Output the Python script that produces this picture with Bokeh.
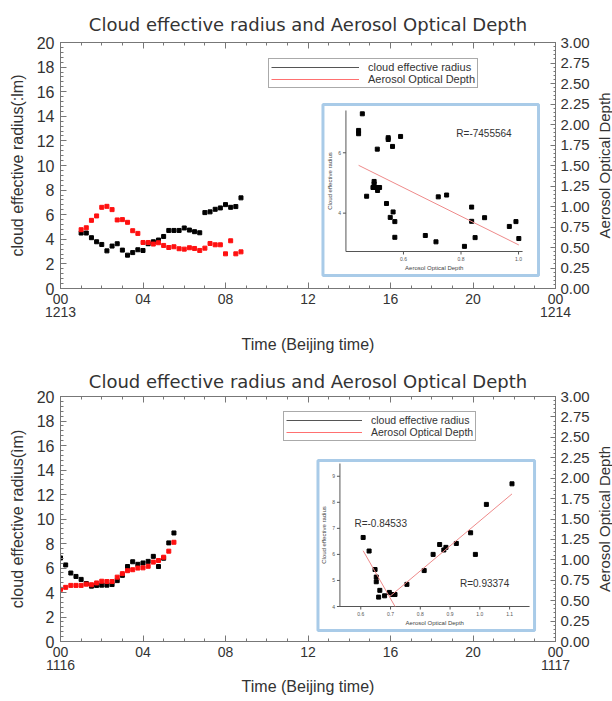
import numpy as np
from bokeh.plotting import figure
from bokeh.models import (Range1d, LinearAxis, FixedTicker, SingleIntervalTicker,
                          Legend, LegendItem)
from bokeh.core.properties import value
from bokeh.layouts import column, row
from bokeh.embed import file_html
from bokeh.resources import INLINE

# ---------------- data: panel 1 (13 Dec) ----------------
time1 = [1.0, 1.25, 1.5, 1.75, 2.0, 2.25, 2.5, 2.75, 3.0, 3.25, 3.5, 3.75, 4.0, 4.25, 4.5, 4.75,
         5.0, 5.25, 5.5, 5.75, 6.0, 6.25, 6.5, 6.75, 7.0, 7.25, 7.5, 7.75, 8.0, 8.25, 8.5, 8.75]
cer1 = [4.51, 4.51, 4.13, 3.80, 3.58, 3.06, 3.45, 3.64, 3.12, 2.71, 2.92, 3.15, 3.09, 3.64, 3.80, 3.94,
        4.23, 4.72, 4.72, 4.72, 4.92, 4.75, 4.62, 4.53, 6.17, 6.23, 6.44, 6.55, 6.82, 6.60, 6.66, 7.37]
aod1 = [0.717, 0.741, 0.831, 0.885, 0.990, 1.002, 0.962, 0.836, 0.840, 0.807, 0.705, 0.672, 0.561, 0.561,
        0.542, 0.558, 0.525, 0.500, 0.509, 0.485, 0.480, 0.497, 0.488, 0.464, 0.492, 0.549, 0.533, 0.533,
        0.423, 0.582, 0.423, 0.447]

# inset 1 (scatter CER vs AOD)
inset1_aod = [0.721, 0.750, 0.837, 0.882, 0.991, 1.001, 0.968, 0.837, 0.849, 0.812, 0.713, 0.676, 0.570,
              0.570, 0.554, 0.564, 0.541, 0.498, 0.505, 0.494, 0.498, 0.517, 0.510, 0.472, 0.509, 0.547,
              0.547, 0.562, 0.444, 0.590, 0.444, 0.457]
inset1_cer = [4.54, 4.60, 4.20, 3.85, 3.72, 3.16, 3.56, 3.73, 3.19, 2.90, 3.05, 3.26, 3.20, 3.72, 3.86, 4.04,
              4.32, 4.97, 4.85, 4.85, 5.05, 4.85, 4.75, 4.56, 6.12, 6.44, 6.50, 6.21, 6.74, 6.54, 6.63, 7.29]
inset1_xticks = [0.6, 0.8, 1.0]
inset1_yticks = [4, 6]
inset1_r = ["R=-7455564"]

# ---------------- data: panel 2 (16 Nov) ----------------
time2 = [0.0, 0.25, 0.5, 0.75, 1.0, 1.25, 1.5, 1.75, 2.0, 2.25, 2.5, 2.75, 3.0, 3.25, 3.5, 3.75,
         4.0, 4.25, 4.5, 4.75, 5.0, 5.25, 5.5]
cer2 = [6.82, 6.25, 5.59, 5.31, 5.07, 4.73, 4.52, 4.58, 4.60, 4.60, 4.65, 4.97, 5.40, 6.12, 6.51, 6.30,
        6.41, 6.54, 6.95, 6.12, 6.80, 8.05, 8.86]
aod2 = [0.639, 0.663, 0.687, 0.687, 0.687, 0.702, 0.695, 0.717, 0.738, 0.734, 0.734, 0.788, 0.831, 0.867,
        0.879, 0.899, 0.902, 0.921, 0.972, 0.992, 1.032, 1.106, 1.215]

inset2_aod = [0.608, 0.628, 0.648, 0.652, 0.652, 0.664, 0.660, 0.680, 0.696, 0.706, 0.715, 0.755, 0.813,
              0.843, 0.865, 0.879, 0.886, 0.921, 0.969, 0.985, 1.022, 1.108]
inset2_cer = [6.65, 6.13, 5.42, 5.13, 4.95, 4.62, 4.36, 4.41, 4.54, 4.46, 4.46, 4.85, 5.38, 6.00, 6.38,
              6.17, 6.27, 6.42, 6.83, 6.00, 7.92, 8.71]
inset2_fall = (0, 11)     # points used for the decreasing fit
inset2_rise = (8, 22)     # points used for the increasing fit
inset2_xticks = [0.6, 0.7, 0.8, 0.9, 1.0, 1.1]
inset2_yticks = [4, 5, 6, 7, 8, 9]
inset2_r = ["R=-0.84533", "R=0.93374"]

# ---------------- ticks / labels ----------------
hour_ticks = [0, 4, 8, 12, 16, 20, 24]
hour_labels = ["00", "04", "08", "12", "16", "20", "00"]
day_ticks = [0, 24]
day_labels1 = ["1213", "1214"]
day_labels2 = ["1116", "1117"]
aod_ticks = [0.0, 0.25, 0.5, 0.75, 1.0, 1.25, 1.5, 1.75, 2.0, 2.25, 2.5, 2.75, 3.0]
title_text = "Cloud effective radius and Aerosol Optical Depth"
series_names = ["cloud effective radius", "Aerosol Optical Depth"]
right_label = "Aerosol Optical Depth"

FONT = "Liberation Sans"
TFONT = "DejaVu Sans"
TXT = "#333333"
AX = "#777777"
BLUE = "#a9cbe8"
PINK = "#ee8a8a"
W = 592          # main figure width; a 20 px strip to its right carries the right-hand title
SIDE_W = 20


def style_axis(ax, size="15px"):
    ax.axis_line_color = AX
    ax.major_tick_line_color = AX
    ax.minor_tick_line_color = AX
    ax.major_label_text_font = FONT
    ax.major_label_text_font_size = size
    ax.major_label_text_color = TXT
    ax.axis_label_text_font = FONT
    ax.axis_label_text_font_style = "normal"
    ax.axis_label_text_color = TXT
    ax.axis_label_text_font_size = "16px"


def main_panel(times, cer, aod, day_labels, ylabel, height, btop, bbottom, title_standoff,
               time_standoff, legend_loc, legend_glyph, legend_font):
    p = figure(width=W, height=height, x_range=Range1d(0, 24), y_range=Range1d(0, 20),
               output_backend="svg", toolbar_location=None,
               min_border_left=60, min_border_right=W - 556, min_border_top=btop, min_border_bottom=bbottom)
    p.extra_y_ranges = {"aod": Range1d(0, 3)}
    p.grid.visible = False
    p.outline_line_color = None
    p.background_fill_color = "white"
    p.border_fill_color = "white"

    p.title.text = title_text
    p.title.align = "center"
    p.title.text_font = TFONT
    p.title.text_font_size = "18px"
    p.title.text_font_style = "normal"
    p.title.text_color = TXT
    p.title.standoff = title_standoff

    xt = FixedTicker(ticks=hour_ticks, minor_ticks=list(range(25)))
    xa = p.xaxis[0]
    xa.ticker = xt
    xa.major_label_overrides = {t: l for t, l in zip(hour_ticks, hour_labels)}
    style_axis(xa, "14px")
    xa.major_tick_in, xa.major_tick_out = 6, 0
    xa.minor_tick_in, xa.minor_tick_out = 3, 0
    xa.major_label_standoff = 5

    # second row of x labels: the dates
    da = LinearAxis(ticker=FixedTicker(ticks=day_ticks, minor_ticks=[]))
    style_axis(da, "14px")
    da.major_label_overrides = {t: l for t, l in zip(day_ticks, day_labels)}
    da.axis_line_color = None
    da.major_tick_line_color = None
    da.minor_tick_line_color = None
    da.major_tick_in, da.major_tick_out = 0, 0
    da.major_label_standoff = 0
    da.axis_label = "Time (Beijing time)"
    da.axis_label_standoff = time_standoff
    p.add_layout(da, "below")

    top = LinearAxis(ticker=xt)
    style_axis(top)
    top.major_label_overrides = {t: "" for t in hour_ticks}
    top.major_label_text_alpha = 0
    top.major_tick_in, top.major_tick_out = 6, 0
    top.minor_tick_in, top.minor_tick_out = 3, 0
    top.major_label_standoff = 0
    p.add_layout(top, "above")

    ya = p.yaxis[0]
    ya.ticker = SingleIntervalTicker(interval=2, num_minor_ticks=5)
    style_axis(ya, "16px")
    ya.major_tick_in, ya.major_tick_out = 6, 0
    ya.minor_tick_in, ya.minor_tick_out = 3, 0
    ya.major_label_standoff = 6
    ya.axis_label = ylabel
    ya.axis_label_standoff = 8

    ra = LinearAxis(y_range_name="aod",
                    ticker=FixedTicker(ticks=aod_ticks, minor_ticks=list(np.arange(0, 3.001, 0.05))))
    ra.major_label_overrides = {t: "%.2f" % t for t in aod_ticks}
    style_axis(ra, "15px")
    ra.major_tick_in, ra.major_tick_out = 5, 0
    ra.minor_tick_in, ra.minor_tick_out = 2, 0
    ra.major_label_standoff = 5
    p.add_layout(ra, "right")

    p.scatter(times, cer, marker="square", size=4, color="black")
    p.scatter(times, aod, marker="square", size=4, color="#ff1010", y_range_name="aod")

    l1 = p.line(x=[np.nan, np.nan], y=[np.nan, np.nan], line_color="#555555", line_width=1)
    l2 = p.line(x=[np.nan, np.nan], y=[np.nan, np.nan], line_color="#ff7070", line_width=1)
    leg = Legend(items=[LegendItem(label=series_names[0], renderers=[l1]),
                        LegendItem(label=series_names[1], renderers=[l2])],
                 location=legend_loc, orientation="vertical",
                 glyph_width=legend_glyph, glyph_height=10, label_height=10, label_standoff=9,
                 padding=2, spacing=0, margin=0,
                 label_text_font=FONT, label_text_font_size=legend_font, label_text_color=TXT,
                 border_line_color="#555555", border_line_width=1, background_fill_alpha=1)
    p.add_layout(leg)
    return p


def side_title(height, btop, bbottom):
    """Narrow strip whose left-axis title reads bottom-to-top: the right-hand axis title."""
    s = figure(width=SIDE_W, height=height, x_range=Range1d(0, 1), y_range=Range1d(0, 3),
               output_backend="svg", toolbar_location=None,
               min_border_left=SIDE_W - 2, min_border_right=0, min_border_top=btop, min_border_bottom=bbottom)
    s.grid.visible = False
    s.outline_line_color = None
    s.background_fill_color = "white"
    s.border_fill_color = "white"
    s.xaxis.visible = False
    ax = s.yaxis[0]
    ax.ticker = FixedTicker(ticks=[], minor_ticks=[])
    ax.axis_line_color = None
    ax.major_tick_line_color = None
    ax.minor_tick_line_color = None
    ax.major_tick_in, ax.major_tick_out = 0, 0
    ax.major_label_standoff = 0
    ax.axis_label = right_label
    ax.axis_label_text_font = FONT
    ax.axis_label_text_font_style = "normal"
    ax.axis_label_text_font_size = "15px"
    ax.axis_label_text_color = TXT
    ax.axis_label_standoff = 0
    return s


def add_inset(p, frame, box, inner, xr, yr, aod, cer, xticks, yticks):
    """Inset scatter drawn through its own extra ranges; box/inner are pixel boxes (l, t, r, b)."""
    fx0, fy0, fx1, fy1 = frame       # main frame in canvas px (l, t, r, b)
    ix0, iy0, ix1, iy1 = inner       # inset axes area in canvas px
    bx0, by0, bx1, by1 = box         # inset blue box in canvas px
    ax0, ax1 = xr
    ay0, ay1 = yr
    s = (ax1 - ax0) / (ix1 - ix0)
    t = (ay1 - ay0) / (iy1 - iy0)
    p.extra_x_ranges["ix"] = Range1d(ax0 - (ix0 - fx0) * s, ax1 + (fx1 - ix1) * s)
    p.extra_y_ranges["iy"] = Range1d(ay0 - (fy1 - iy1) * t, ay1 + (iy0 - fy0) * t)
    kw = dict(x_range_name="ix", y_range_name="iy")
    f = value(FONT)
    # box
    p.quad(left=[ax0 - (ix0 - bx0) * s], right=[ax1 + (bx1 - ix1) * s],
           bottom=[ay0 - (by1 - iy1) * t], top=[ay1 + (iy0 - by0) * t],
           fill_color="white", line_color=BLUE, line_width=3, **kw)
    # axes
    p.segment(x0=[ax0, ax0], y0=[ay0, ay0], x1=[ax1, ax0], y1=[ay0, ay1],
              line_color="#555555", line_width=1, **kw)
    p.ray(x=xticks, y=[ay0] * len(xticks), length=3, angle=-np.pi / 2, length_units="screen",
          line_color="#555555", line_width=1, **kw)
    p.ray(x=[ax0] * len(yticks), y=yticks, length=3, angle=np.pi, length_units="screen",
          line_color="#555555", line_width=1, **kw)
    p.text(x=xticks, y=[ay0 - 5 * t] * len(xticks), text=["%.1f" % v for v in xticks],
           text_font_size="5px", text_align="center", text_baseline="top",
           text_color="#555555", text_font=f, **kw)
    p.text(x=[ax0 - 5 * s] * len(yticks), y=yticks, text=["%d" % v for v in yticks],
           text_font_size="5px", text_align="right", text_baseline="middle",
           text_color="#555555", text_font=f, **kw)
    p.text(x=[(ax0 + ax1) / 2], y=[ay0 - 13 * t], text=["Aerosol Optical Depth"],
           text_font_size="6px", text_align="center", text_baseline="top",
           text_color="#444444", text_font=f, **kw)
    p.text(x=[ax0 - 13 * s], y=[(ay0 + ay1) / 2], text=["Cloud effective radius"], angle=np.pi / 2,
           text_font_size="6px", text_align="center", text_baseline="bottom",
           text_color="#444444", text_font=f, **kw)
    p.scatter(aod, cer, marker="square", size=4, color="black", **kw)
    return kw


def add_fit(p, x, y, kw):
    x = np.asarray(x)
    y = np.asarray(y)
    k, b = np.polyfit(x, y, 1)
    xs = np.array([x.min(), x.max()])
    p.line(xs, k * xs + b, line_color=PINK, line_width=1, **kw)


# ---- panel 1 ----
p1 = main_panel(time1, cer1, aod1, day_labels1, "cloud effective radius(:lm)", 363, 42, 75, 16, 16,
                (208, 200), 88, "11px")
kw1 = add_inset(p1, (60, 42, 556, 288), (323, 104, 539, 275), (346, 110, 523, 251),
                (0.4, 1.014), (2.73, 7.40), inset1_aod, inset1_cer, inset1_xticks, inset1_yticks)
add_fit(p1, inset1_aod, inset1_cer, kw1)
p1.text(x=[0.88], y=[6.63], text=inset1_r, text_font=value(FONT), text_font_size="10px",
        text_align="center", text_baseline="middle", text_color=TXT, **kw1)
s1 = side_title(363, 42, 75)

# ---- panel 2 ----
p2 = main_panel(time2, cer2, aod2, day_labels2, "cloud effective radius(ìm)", 338, 33, 60, 10, 5,
                (223, 200), 76, "10.5px")
kw2 = add_inset(p2, (60, 33, 556, 278), (318, 97, 535, 267), (340, 100, 530, 243),
                (0.53, 1.167), (4.0, 9.49), inset2_aod, inset2_cer, inset2_xticks, inset2_yticks)
a0, a1 = inset2_fall
add_fit(p2, inset2_aod[a0:a1], inset2_cer[a0:a1], kw2)
c0, c1 = inset2_rise
add_fit(p2, inset2_aod[c0:c1], inset2_cer[c0:c1], kw2)
p2.text(x=[0.667, 1.016], y=[7.18, 4.90], text=inset2_r, text_font=value(FONT), text_font_size="10px",
        text_align="center", text_baseline="middle", text_color=TXT, **kw2)
s2 = side_title(338, 33, 60)

layout = column(row(p1, s1), row(p2, s2))
open("out.html", "w").write(file_html(layout, INLINE))
